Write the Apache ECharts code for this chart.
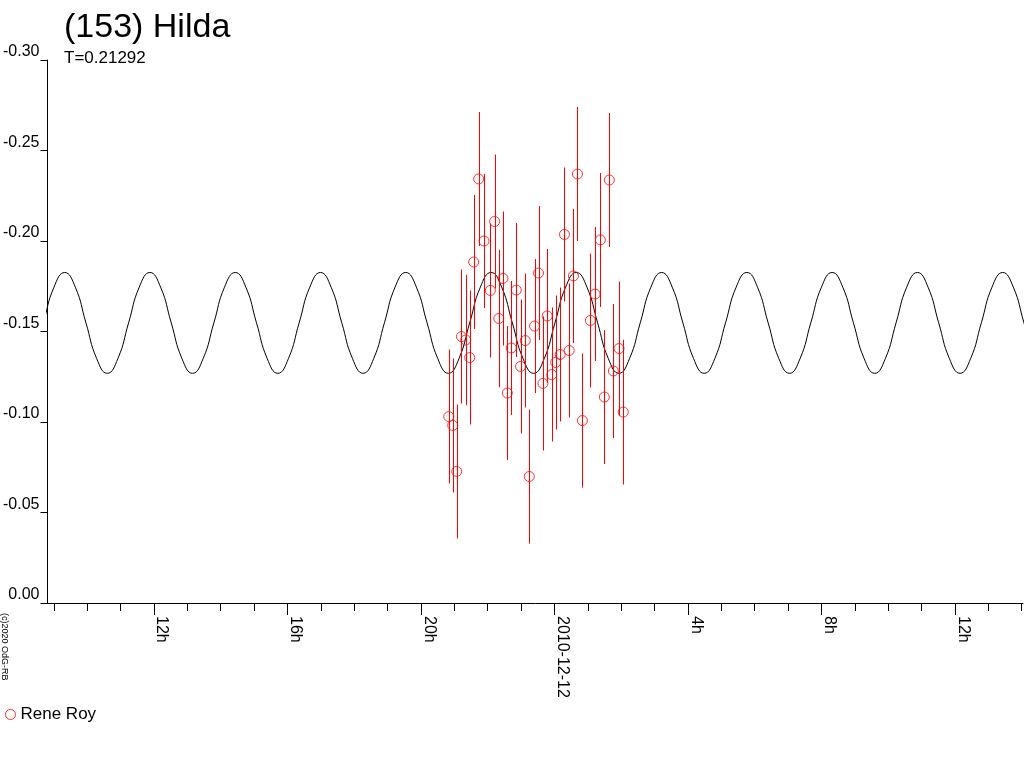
<!DOCTYPE html>
<html>
<head>
<meta charset="utf-8">
<script src="https://cdn.jsdelivr.net/npm/echarts@6/dist/echarts.min.js"></script>
<style>html,body{margin:0;padding:0;background:#fff;}#chart{width:1024px;height:768px;}</style>
</head>
<body>
<div id="chart"></div>
<script>
// Observation times (hours from 2010-12-11 00:00 UT)
var obsHours = [20.834, 20.954, 21.073, 21.214, 21.343, 21.462, 21.582, 21.731, 21.892, 22.081,
  22.209, 22.335, 22.460, 22.589, 22.708, 22.858, 22.986, 23.127, 23.246, 23.405,
  23.524, 23.656, 23.784, 23.919, 24.038, 24.173, 24.301, 24.442, 24.570, 24.690,
  24.839, 25.078, 25.219, 25.377, 25.497, 25.646, 25.766, 25.936, 26.064];
// Relative magnitudes
var obsMag = [-0.1030, -0.0981, -0.0727, -0.1472, -0.1453, -0.1356, -0.1884, -0.2343, -0.2000, -0.1727,
  -0.2108, -0.1572, -0.1793, -0.1160, -0.1409, -0.1729, -0.1307, -0.1450, -0.0699, -0.1530,
  -0.1823, -0.1213, -0.1586, -0.1262, -0.1329, -0.1373, -0.2036, -0.1395, -0.1807, -0.2370,
  -0.1008, -0.1561, -0.1707, -0.2006, -0.1138, -0.2337, -0.1282, -0.1406, -0.1055];
// Error bar half-lengths
var obsErr = [0.037, 0.037, 0.037, 0.037, 0.036, 0.037, 0.037, 0.037, 0.037, 0.037,
  0.037, 0.038, 0.037, 0.037, 0.037, 0.037, 0.037, 0.037, 0.037, 0.037,
  0.037, 0.037, 0.037, 0.037, 0.037, 0.037, 0.037, 0.037, 0.037, 0.037,
  0.037, 0.037, 0.037, 0.037, 0.037, 0.037, 0.037, 0.037, 0.040];
var curveHours = [8.048, 8.367, 8.687, 9.006, 9.326, 9.645, 9.964, 10.284, 10.603, 10.922,
  11.242, 11.561, 11.881, 12.200, 12.519, 12.839, 13.158, 13.477, 13.797, 14.116,
  14.436, 14.755, 15.074, 15.394, 15.713, 16.032, 16.352, 16.671, 16.991, 17.310,
  17.629, 17.949, 18.268, 18.587, 18.907, 19.226, 19.546, 19.865, 20.184, 20.504,
  20.823, 21.142, 21.462, 21.781, 22.101, 22.420, 22.739, 23.059, 23.378, 23.697,
  24.017, 24.336, 24.656, 24.975, 25.294, 25.614, 25.933, 26.252, 26.572, 26.891,
  27.211, 27.530, 27.849, 28.169, 28.488, 28.807, 29.127, 29.446, 29.766, 30.085,
  30.404, 30.724, 31.043, 31.362, 31.682, 32.001, 32.321, 32.640, 32.959, 33.279,
  33.598, 33.917, 34.237, 34.556, 34.876, 35.195, 35.514, 35.834, 36.153, 36.472,
  36.792, 37.111, 37.431, 37.750, 38.069, 38.389, 38.708];
var curveMag = [-0.1269, -0.1351, -0.1548, -0.1745, -0.1826, -0.1745, -0.1548, -0.1351,
  -0.1269, -0.1351, -0.1548, -0.1745, -0.1826, -0.1745, -0.1548, -0.1351,
  -0.1269, -0.1351, -0.1548, -0.1745, -0.1826, -0.1745, -0.1548, -0.1351,
  -0.1269, -0.1351, -0.1548, -0.1745, -0.1826, -0.1745, -0.1548, -0.1351,
  -0.1269, -0.1351, -0.1548, -0.1745, -0.1826, -0.1745, -0.1548, -0.1351,
  -0.1269, -0.1351, -0.1548, -0.1745, -0.1826, -0.1745, -0.1548, -0.1351,
  -0.1269, -0.1351, -0.1548, -0.1745, -0.1826, -0.1745, -0.1548, -0.1351,
  -0.1269, -0.1351, -0.1548, -0.1745, -0.1826, -0.1745, -0.1548, -0.1351,
  -0.1269, -0.1351, -0.1548, -0.1745, -0.1826, -0.1745, -0.1548, -0.1351,
  -0.1269, -0.1351, -0.1548, -0.1745, -0.1826, -0.1745, -0.1548, -0.1351,
  -0.1269, -0.1351, -0.1548, -0.1745, -0.1826, -0.1745, -0.1548, -0.1351,
  -0.1269, -0.1351, -0.1548, -0.1745, -0.1826, -0.1745, -0.1548, -0.1351,
  -0.1269];
// Axis ticks
var minorTickHours = [9, 10, 11, 12, 13, 14, 15, 16, 17, 18, 19, 20, 21, 22, 23, 24, 25, 26, 27, 28, 29, 30, 31, 32, 33, 34, 35, 36, 37, 38];
var majorTickHours = [12, 16, 20, 24, 28, 32, 36];
var dateLabel = '2010-12-12';
var titleText = '(153) Hilda';
var subText = 'T=0.21292';
var observer = 'Rene Roy';
var copyright = '(c)2020 OdG-RB';

var FONT = 'Liberation Sans, Arial, sans-serif';
var RED = '#ff0000';
var xMin = 8.811, xMax = 38.04;

var obsData = obsHours.map(function (t, i) { return [t, obsMag[i]]; });
var errData = obsHours.map(function (t, i) { return [t, obsMag[i], obsErr[i]]; });
var curveData = curveHours.map(function (t, i) { return [t, curveMag[i]]; });

var chart = echarts.init(document.getElementById('chart'), null, { renderer: 'canvas' });
chart.setOption({
  animation: false,
  backgroundColor: '#ffffff',
  title: {
    text: titleText,
    subtext: subText,
    left: 64, top: 11, padding: 0, itemGap: 5,
    textStyle: { fontFamily: FONT, fontSize: 34, lineHeight: 34, fontWeight: 'normal', color: '#000' },
    subtextStyle: { fontFamily: FONT, fontSize: 17, lineHeight: 17, color: '#000' }
  },
  legend: {
    left: 0, top: 701,
    itemWidth: 10, itemHeight: 10,
    data: [{ name: observer, icon: 'circle', itemStyle: { color: 'rgba(0,0,0,0)', borderColor: RED, borderWidth: 1 } }],
    textStyle: { fontFamily: FONT, fontSize: 17, color: '#000' }
  },
  graphic: [{
    type: 'text',
    x: 0, y: 613,
    rotation: -Math.PI / 2,
    style: { text: copyright, font: '9px ' + FONT, fill: '#000', align: 'left', verticalAlign: 'bottom' }
  }],
  grid: { left: 45, right: 1, top: 60, bottom: 165, containLabel: false },
  xAxis: [{
    type: 'value', position: 'bottom', min: xMin, max: xMax,
    axisLine: { show: true, onZero: false, lineStyle: { color: '#000', width: 1 } },
    axisTick: { show: true, length: 8, customValues: minorTickHours, lineStyle: { color: '#000', width: 1 } },
    axisLabel: { show: false },
    splitLine: { show: false }
  }, {
    type: 'value', position: 'bottom', min: xMin, max: xMax,
    axisLine: { show: false, onZero: false },
    axisTick: { show: true, length: 12, customValues: majorTickHours, lineStyle: { color: '#000', width: 1 } },
    axisLabel: {
      show: true, customValues: majorTickHours, rotate: -90, margin: 13,
      align: 'left', verticalAlign: 'bottom', lineHeight: 16,
      fontFamily: FONT, fontSize: 16, color: '#000',
      formatter: function (v) { return v === 24 ? dateLabel : (v % 24) + 'h'; }
    },
    splitLine: { show: false }
  }],
  yAxis: {
    type: 'value', inverse: true, min: -0.30, max: 0, interval: 0.05,
    axisLine: { show: true, onZero: false, lineStyle: { color: '#000', width: 1 } },
    axisTick: { show: true, length: 7, lineStyle: { color: '#000', width: 1 } },
    axisLabel: {
      margin: 8, fontFamily: FONT, fontSize: 16, lineHeight: 16, color: '#000', verticalAlign: 'bottom',
      formatter: function (v) { return Math.abs(v) < 1e-9 ? '0.00' : v.toFixed(2); }
    },
    splitLine: { show: false }
  },
  series: [{
    type: 'line', name: 'model', data: curveData, xAxisIndex: 0,
    showSymbol: false, smooth: 0.5, clip: true, z: 2,
    lineStyle: { color: '#000', width: 1 }, silent: true
  }, {
    type: 'custom', name: 'err', data: errData, xAxisIndex: 0, clip: true, z: 3,
    encode: { x: 0, y: 1 },
    itemStyle: { color: RED, borderColor: RED },
    silent: true,
    renderItem: function (params, api) {
      var t = api.value(0), m = api.value(1), e = api.value(2);
      var a = api.coord([t, m - e]), b = api.coord([t, m + e]);
      var x = Math.round(a[0]);
      var top = Math.min(a[1], b[1]), h = Math.abs(b[1] - a[1]);
      return { type: 'rect', shape: { x: x, y: top, width: 1, height: h }, style: { fill: RED, stroke: null } };
    }
  }, {
    type: 'scatter', name: observer, data: obsData, xAxisIndex: 0, z: 4,
    symbol: 'circle', symbolSize: 10,
    itemStyle: { color: 'rgba(0,0,0,0)', borderColor: RED, borderWidth: 1 }
  }]
});
</script>
</body>
</html>
